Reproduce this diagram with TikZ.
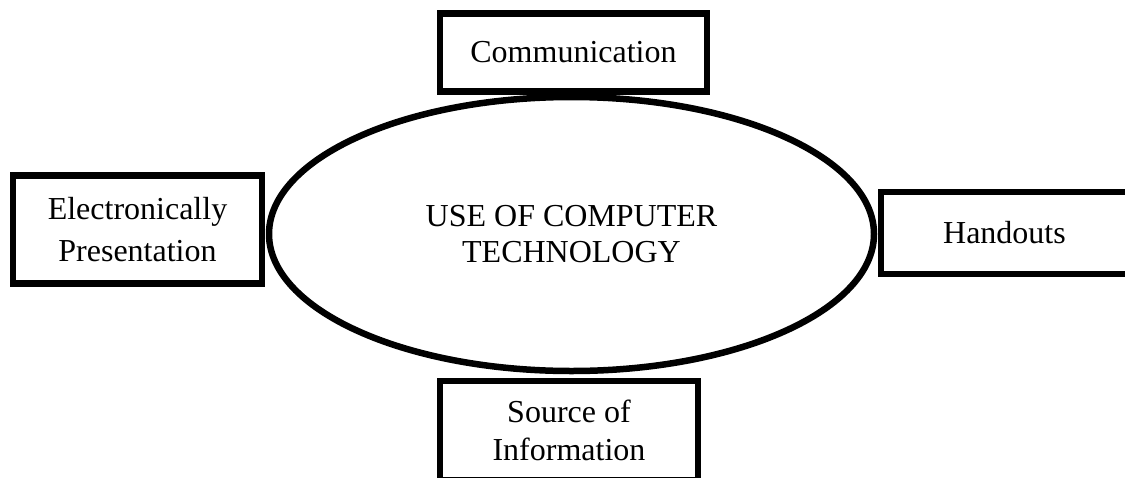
\documentclass[tikz,border=0pt]{standalone}
\usepackage{fontspec}
\setmainfont{Liberation Serif}
\usetikzlibrary{shapes.geometric}
\begin{document}
\begin{tikzpicture}[x=1pt,y=-1pt,
  every node/.style={font=\fontsize{32}{38}\selectfont},
  boxnode/.style={draw=black, line width=6.5pt, rectangle, inner sep=0pt, align=center, fill=white},
  ovalnode/.style={draw=black, line width=6.5pt, ellipse, inner sep=0pt, align=center, fill=white}]
\useasboundingbox (0,0) rectangle (1125,477);
\clip (0,0) rectangle (1125,477);
\fill[white] (0,0) rectangle (1125,477);
\node[ovalnode, minimum width=605pt, minimum height=274pt,
      font=\fontsize{32}{36.5}\selectfont] (center) at (571.5,234) {USE OF COMPUTER\\TECHNOLOGY};
\node[boxnode, minimum width=267pt, minimum height=78pt] (comm) at (573.5,52.5) {Communication};
\node[boxnode, minimum width=249pt, minimum height=108pt,
      font=\fontsize{32}{41.5}\selectfont] (elec) at (137.5,229.5) {Electronically\\Presentation};
\node[boxnode, minimum width=247pt, minimum height=82pt] (hand) at (1004.5,233) {Handouts};
\node[boxnode, minimum width=258pt, minimum height=99pt,
      font=\fontsize{32}{38.3}\selectfont] (src) at (569,430.5) {Source of\\Information};
\end{tikzpicture}
\end{document}
